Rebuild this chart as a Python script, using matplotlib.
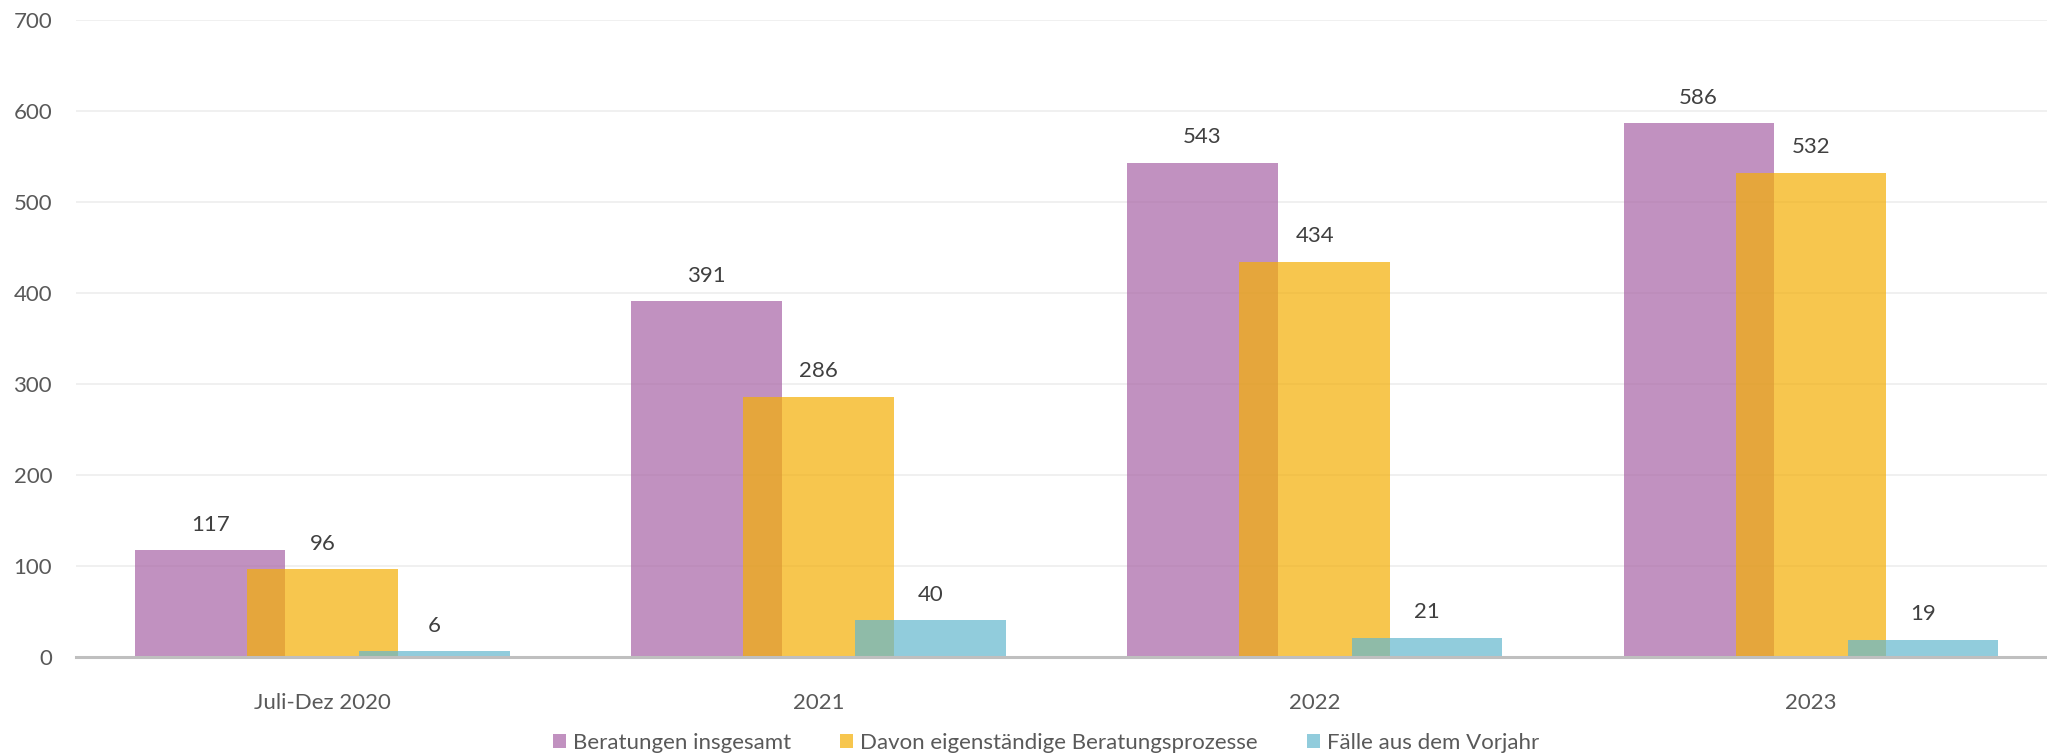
import numpy as np
import matplotlib.pyplot as plt

categories = ['Juli-Dez 2020', '2021', '2022', '2023']
beratungen = [117, 391, 543, 586]
eigenstaendig = [96, 286, 434, 532]
vorjahr = [6, 40, 21, 19]
series_names = ['Beratungen insgesamt', 'Davon eigenständige Beratungsprozesse', 'Fälle aus dem Vorjahr']

colors = ['#A865A6', '#F4AF06', '#65B7CE']
alpha = 0.71

plt.rcParams['font.family'] = ['Lato', 'DejaVu Sans']

fig = plt.figure(figsize=(20.47, 7.55), dpi=100)
ax = fig.add_axes([0.037, 0.130, 0.963, 0.844])

x = np.arange(len(categories))
width = 0.303
offset = 0.226

for k, (vals, name) in enumerate(zip([beratungen, eigenstaendig, vorjahr], series_names)):
    pos = x + (k - 1) * offset
    ax.bar(pos, vals, width=width, color=colors[k], alpha=alpha, label=name, zorder=2 + k)
    for px, v in zip(pos, vals):
        ax.annotate(str(v), (px, v), xytext=(0, 11), textcoords='offset points',
                    ha='center', va='bottom', fontsize=16, color='#404040')

ax.set_xlim(-0.497, 3.476)
ax.set_ylim(0, 700)
ax.set_yticks(range(0, 701, 100))
ax.set_xticks(x)
ax.set_xticklabels(categories)
ax.tick_params(axis='y', length=0, pad=17, labelsize=16, labelcolor='#595959')
ax.tick_params(axis='x', length=0, pad=26, labelsize=16, labelcolor='#595959')
ax.grid(axis='y', color='#EDEDED', linewidth=1.2, zorder=0)
ax.set_axisbelow(True)
for s in ['top', 'right', 'left']:
    ax.spines[s].set_visible(False)
ax.spines['bottom'].set_color('#BFBFBF')
ax.spines['bottom'].set_linewidth(2.2)
ax.spines['bottom'].set_zorder(10)

leg = fig.legend(loc='center', bbox_to_anchor=(0.511, 0.016), ncol=3, frameon=False,
                 fontsize=16, handlelength=0.6, handleheight=0.6, handletextpad=0.3,
                 columnspacing=2.2, labelcolor='#595959')

fig.savefig('out.png', dpi=100)
